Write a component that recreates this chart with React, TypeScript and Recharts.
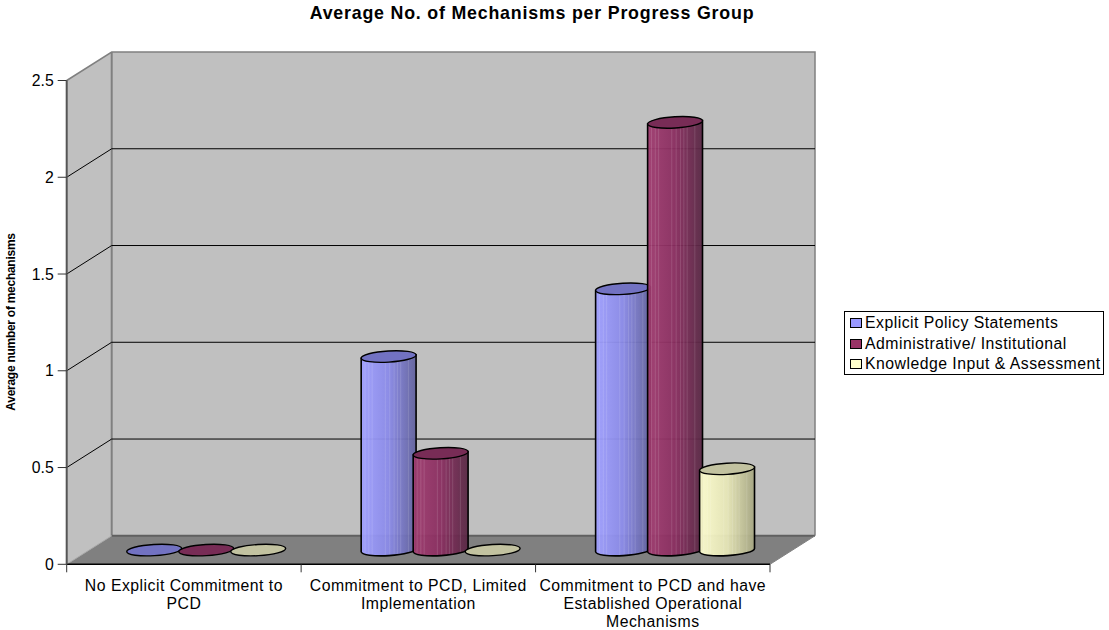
import { Bar, BarChart, CartesianGrid, Customized, Legend, XAxis, YAxis } from 'recharts';

const categories = [
  ['No Explicit Commitment to', 'PCD'],
  ['Commitment to PCD, Limited', 'Implementation'],
  ['Commitment to PCD and have', 'Established Operational', 'Mechanisms'],
];
const explicitPolicy = [0, 1, 1.35];
const administrative = [0, 0.5, 2.21];
const knowledgeInput = [0, 0, 0.42];
const yTicks = [0, 0.5, 1, 1.5, 2, 2.5];

const chartData = categories.map((lines, i) => ({
  name: lines.join(' '),
  explicit: explicitPolicy[i],
  admin: administrative[i],
  knowledge: knowledgeInput[i],
}));

const WIDTH = 1109;
const HEIGHT = 630;
// front plane of the plot box
const LEFT = 66.7;
const RIGHT = 770;
const TOP = 80.5;
const BOTTOM = 564.3;
// how far the back wall is pushed away from the front plane
const DEPTH_X = 45;
const DEPTH_Y = 28.5;
const BAND = (RIGHT - LEFT) / categories.length;

const TILT = 3.5;
const FONT = '"Liberation Sans", Arial, sans-serif';

// lighter vertical streaks on the cylinder sides, as a fraction of the width
const streaks = [0.07, 0.14, 0.2, 0.44, 0.52, 0.6, 0.66, 0.72, 0.86];

const palette = {
  explicit: { id: 'gradExplicit', cap: '#7272c2', stops: ['#a0a0ff', '#8a8ae8', '#62629c'] },
  admin: { id: 'gradAdmin', cap: '#782c56', stops: ['#a03c70', '#8a2e60', '#582844'] },
  knowledge: { id: 'gradKnowledge', cap: '#c2c2a0', stops: ['#fdfdce', '#e6e6b6', '#a6a682'] },
};

function Backdrop() {
  const dx = DEPTH_X;
  const dy = DEPTH_Y;
  return (
    <g>
      <defs>
        {Object.values(palette).map((p) => (
          <linearGradient key={p.id} id={p.id} x1="0" y1="0" x2="1" y2="0">
            <stop offset="0%" stopColor={p.stops[0]} />
            <stop offset="50%" stopColor={p.stops[1]} />
            <stop offset="100%" stopColor={p.stops[2]} />
          </linearGradient>
        ))}
      </defs>
      {/* side wall, back wall, floor */}
      <polygon
        points={`${LEFT},${TOP} ${LEFT + dx},${TOP - dy} ${LEFT + dx},${BOTTOM - dy} ${LEFT},${BOTTOM}`}
        fill="#c0c0c0"
      />
      <rect x={LEFT + dx} y={TOP - dy} width={RIGHT - LEFT} height={BOTTOM - TOP} fill="#c0c0c0" />
      <polygon
        points={`${LEFT},${BOTTOM} ${LEFT + dx},${BOTTOM - dy} ${RIGHT + dx},${BOTTOM - dy} ${RIGHT},${BOTTOM}`}
        fill="#808080"
      />
      <polyline
        points={`${LEFT},${TOP} ${LEFT + dx},${TOP - dy} ${RIGHT + dx},${TOP - dy} ${RIGHT + dx},${BOTTOM - dy}`}
        fill="none"
        stroke="#808080"
        strokeWidth={1.5}
      />
      <line x1={LEFT + dx} y1={TOP - dy} x2={LEFT + dx} y2={BOTTOM - dy} stroke="#808080" strokeWidth={2} />
      <line x1={LEFT + dx} y1={BOTTOM - dy} x2={RIGHT + dx} y2={BOTTOM - dy} stroke="#606060" strokeWidth={2} />
      <line x1={LEFT} y1={BOTTOM} x2={LEFT + dx} y2={BOTTOM - dy} stroke="#a8a8a8" strokeWidth={1} />
      <line x1={RIGHT} y1={BOTTOM} x2={RIGHT + dx} y2={BOTTOM - dy} stroke="#808080" strokeWidth={1} />
    </g>
  );
}

function ChartText() {
  return (
    <g fontFamily={FONT} fill="#000">
      <text x={532} y={19} textAnchor="middle" fontSize={17.8} letterSpacing={0.8} fontWeight="bold">
        Average No. of Mechanisms per Progress Group
      </text>
      <text
        transform="translate(15 322) rotate(-90)"
        textAnchor="middle"
        fontSize={12}
        fontWeight="bold"
        letterSpacing={-0.27}
      >
        Average number of mechanisms
      </text>
    </g>
  );
}

// slanted piece over the side wall, then the long line across the back wall
function WallGridLine(props: any) {
  const { x1, x2, y1 } = props;
  if (y1 < TOP + 1 || y1 > BOTTOM - 1) return <g />;
  return (
    <polyline
      points={`${x1},${y1} ${x1 + DEPTH_X},${y1 - DEPTH_Y} ${x2 + DEPTH_X},${y1 - DEPTH_Y}`}
      fill="none"
      stroke="#000"
      strokeWidth={1}
    />
  );
}

function CategoryTick(props: any) {
  const { x, y, index } = props;
  const lines = categories[index] ?? [];
  const boundary = (px: number) => <line x1={px} y1={BOTTOM} x2={px} y2={BOTTOM + 8} stroke="#333" strokeWidth={1} />;
  return (
    <g>
      {boundary(x - BAND / 2)}
      {index === categories.length - 1 && boundary(x + BAND / 2)}
      {lines.map((line, i) => (
        <text
          key={line}
          x={x}
          y={y + 19 + i * 17.8}
          textAnchor="middle"
          fontSize={15.8}
          letterSpacing={0.48}
          fontFamily={FONT}
          fill="#000"
        >
          {line}
        </text>
      ))}
    </g>
  );
}

function Cylinder(props: any) {
  const { x, y, width, height, colors } = props;
  const cx = x + width / 2 + DEPTH_X / 2;
  const yTop = y - DEPTH_Y / 2;
  const yBase = y + height - DEPTH_Y / 2;
  const rx = width / 2 + 1.5;
  const ry = 5.6;
  const rad = (TILT * Math.PI) / 180;
  const ox = rx * Math.cos(rad);
  const oy = rx * Math.sin(rad);

  if (height < 1) {
    return (
      <ellipse
        cx={cx}
        cy={yBase}
        rx={rx}
        ry={ry}
        transform={`rotate(${-TILT} ${cx} ${yBase})`}
        fill={colors.cap}
        stroke="#000"
        strokeWidth={1.4}
      />
    );
  }

  const body =
    `M${cx - ox},${yTop + oy} L${cx - ox},${yBase + oy} ` +
    `A${rx},${ry} ${-TILT} 0 0 ${cx + ox},${yBase - oy} L${cx + ox},${yTop - oy} Z`;

  return (
    <g>
      <path d={body} fill={`url(#${colors.id})`} fillOpacity={0.95} />
      {streaks.map((s) => {
        const u = s * 2 - 1;
        const px = cx + u * ox;
        const drop = ry * Math.sqrt(1 - u * u);
        return (
          <line
            key={s}
            x1={px}
            x2={px}
            y1={yTop - u * oy + drop}
            y2={yBase - u * oy + drop}
            stroke="#fff"
            strokeOpacity={0.13}
            strokeWidth={1}
          />
        );
      })}
      <path d={body} fill="none" stroke="#000" strokeWidth={1.6} />
      <ellipse
        cx={cx}
        cy={yTop}
        rx={rx}
        ry={ry}
        transform={`rotate(${-TILT} ${cx} ${yTop})`}
        fill={colors.cap}
        stroke="#000"
        strokeWidth={1.4}
      />
    </g>
  );
}

function LegendBox(props: any) {
  const { payload } = props;
  return (
    <div
      style={{
        boxSizing: 'border-box',
        width: 260,
        height: 64,
        border: '1px solid #000',
        background: '#fff',
        padding: '1px 0 0 5px',
        fontFamily: FONT,
        fontSize: 15.8,
        letterSpacing: 0.48,
        color: '#000',
        whiteSpace: 'nowrap',
      }}
    >
      {(payload ?? []).map((entry: any) => (
        <div key={entry.value} style={{ display: 'flex', alignItems: 'center', height: 20.8 }}>
          <span
            style={{
              boxSizing: 'border-box',
              width: 12,
              height: 10,
              marginRight: 3,
              border: '1.5px solid #000',
              background: entry.color,
            }}
          />
          {entry.value}
        </div>
      ))}
    </div>
  );
}

export default function App() {
  return (
    <div style={{ position: 'absolute', left: 0, top: 0, width: WIDTH, height: HEIGHT, background: '#fff' }}>
      <BarChart
        width={WIDTH}
        height={HEIGHT}
        data={chartData}
        barSize={52}
        barGap={0}
        margin={{ top: TOP, left: LEFT - 60, right: WIDTH - RIGHT, bottom: HEIGHT - BOTTOM - 50 }}
      >
        <Customized component={<Backdrop />} />
        <CartesianGrid vertical={false} horizontal={WallGridLine} zIndex={10} />
        <XAxis
          dataKey="name"
          height={50}
          interval={0}
          tickLine={false}
          axisLine={{ stroke: '#000', strokeWidth: 1.5 }}
          tick={<CategoryTick />}
        />
        <YAxis
          width={60}
          domain={[0, 2.5]}
          ticks={yTicks}
          interval={0}
          tickSize={9}
          tickMargin={4}
          axisLine={{ stroke: '#555', strokeWidth: 2 }}
          tickLine={{ stroke: '#333' }}
          tick={{ fontSize: 15.8, fontFamily: FONT, fill: '#000' }}
        />
        <Legend
          layout="vertical"
          align="center"
          verticalAlign="middle"
          itemSorter={null}
          content={<LegendBox />}
          wrapperStyle={{ left: 844, top: 310.5, width: 260 }}
        />
        <Bar
          dataKey="explicit"
          name="Explicit Policy Statements"
          fill="#9999ff"
          isAnimationActive={false}
          shape={<Cylinder colors={palette.explicit} />}
        />
        <Bar
          dataKey="admin"
          name="Administrative/ Institutional"
          fill="#993366"
          isAnimationActive={false}
          shape={<Cylinder colors={palette.admin} />}
        />
        <Bar
          dataKey="knowledge"
          name="Knowledge Input & Assessment"
          fill="#ffffcc"
          isAnimationActive={false}
          shape={<Cylinder colors={palette.knowledge} />}
        />
        <Customized component={<ChartText />} />
      </BarChart>
    </div>
  );
}
